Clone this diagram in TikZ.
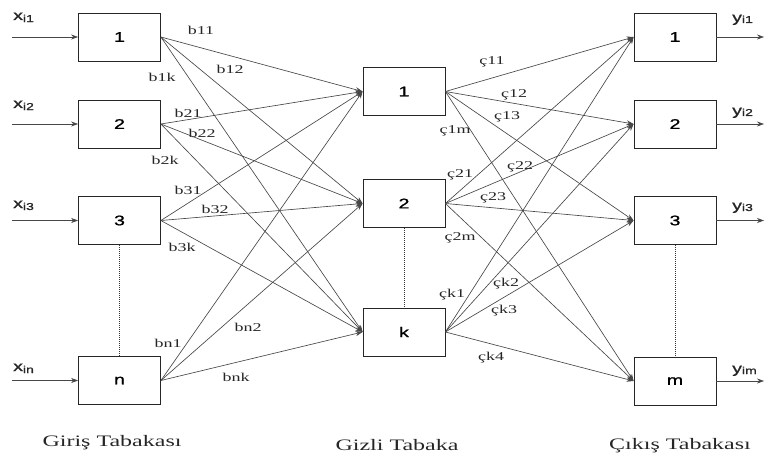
\documentclass[tikz,border=0pt]{standalone}
\usepackage{fontspec}
\setmainfont{Liberation Serif}
\newfontfamily\boxfont[FakeStretch=1.4,FakeBold=1.2]{Liberation Sans}
\newfontfamily\wfont[FakeStretch=1.5]{Liberation Serif}
\newfontfamily\tfont[FakeStretch=1.5]{Liberation Serif}
\usetikzlibrary{arrows.meta}
\begin{document}
\begin{tikzpicture}[x=1pt,y=-1pt,
  unit/.style={draw=black!85, line width=0.8pt, minimum width=82pt, minimum height=48pt, inner sep=0pt,
    font=\boxfont\fontsize{14}{14}\selectfont},
  conn/.style={draw=black!72, line width=0.65pt, -{Stealth[length=7pt,width=5pt]}},
  inarr/.style={draw=black!72, line width=0.65pt, -{Stealth[length=7pt,width=5pt]}},
  dotline/.style={draw=black!80, line width=0.6pt, dash pattern=on 1pt off 1pt},
  wlab/.style={font=\wfont\fontsize{12}{12}\selectfont, inner sep=0pt, text=black!85},
  vlab/.style={font=\boxfont\fontsize{14}{14}\selectfont, inner sep=0pt, anchor=base west, text=black!85},
  ttl/.style={font=\tfont\fontsize{16}{16}\selectfont, inner sep=0pt, text=black!85}
]
\useasboundingbox (0,0) rectangle (764,460);
% input layer
\node[unit] (i1) at (119.5,37) {1};
\node[unit] (i2) at (119.5,124) {2};
\node[unit] (i3) at (119.5,220.5) {3};
\node[unit] (in) at (119.5,380.5) {n};
% hidden layer
\node[unit] (h1) at (404,91.5) {1};
\node[unit] (h2) at (404,203.5) {2};
\node[unit] (hk) at (404,332) {k};
% output layer
\node[unit] (o1) at (675,37) {1};
\node[unit] (o2) at (675,124) {2};
\node[unit] (o3) at (675,220.5) {3};
\node[unit] (om) at (675,381) {m};
% input arrows
\coordinate (s1) at (12,37);
\coordinate (s2) at (12,124);
\coordinate (s3) at (12,220.5);
\coordinate (sn) at (12,380.5);
\draw[inarr] (s1) -- (i1.west);
\draw[inarr] (s2) -- (i2.west);
\draw[inarr] (s3) -- (i3.west);
\draw[inarr] (sn) -- (in.west);
% output arrows
\coordinate (e1) at (764,37);
\coordinate (e2) at (764,124);
\coordinate (e3) at (764,220.5);
\coordinate (em) at (764,381);
\draw[inarr] (o1.east) -- (e1);
\draw[inarr] (o2.east) -- (e2);
\draw[inarr] (o3.east) -- (e3);
\draw[inarr] (om.east) -- (em);
% dotted
\draw[dotline] (i3.south) -- (in.north);
\draw[dotline] (h2.south) -- (hk.north);
\draw[dotline] (o3.south) -- (om.north);
% connections
\foreach \a in {i1,i2,i3,in} \foreach \b in {h1,h2,hk} \draw[conn] (\a.east) -- (\b.west);
\foreach \a in {h1,h2,hk} \foreach \b in {o1,o2,o3,om} \draw[conn] (\a.east) -- (\b.west);
% input labels
\node[vlab] (xl1) at (13,20) {x{\fontsize{10}{10}\selectfont\raisebox{-2pt}{i1}}};
\node[vlab] (xl2) at (13,108) {x{\fontsize{10}{10}\selectfont\raisebox{-2pt}{i2}}};
\node[vlab] (xl3) at (13,208) {x{\fontsize{10}{10}\selectfont\raisebox{-2pt}{i3}}};
\node[vlab] (xln) at (13,371) {x{\fontsize{10}{10}\selectfont\raisebox{-2pt}{in}}};
% output labels
\node[vlab] (yl1) at (732,22) {y{\fontsize{10}{10}\selectfont\raisebox{-1pt}{i1}}};
\node[vlab] (yl2) at (732,115) {y{\fontsize{10}{10}\selectfont\raisebox{-1pt}{i2}}};
\node[vlab] (yl3) at (732,210) {y{\fontsize{10}{10}\selectfont\raisebox{-1pt}{i3}}};
\node[vlab] (ylm) at (732,373) {y{\fontsize{10}{10}\selectfont\raisebox{-1pt}{im}}};
% weight labels input-hidden
\node[wlab] (w11) at (201,30) {b11};
\node[wlab] (w12) at (230,69) {b12};
\node[wlab] (w1k) at (162,77) {b1k};
\node[wlab] (w21) at (188,113) {b21};
\node[wlab] (w22) at (202,133) {b22};
\node[wlab] (w2k) at (165,160) {b2k};
\node[wlab] (w31) at (188,190) {b31};
\node[wlab] (w32) at (215,209) {b32};
\node[wlab] (w3k) at (182,247) {b3k};
\node[wlab] (wn1) at (168,343) {bn1};
\node[wlab] (wn2) at (248,327) {bn2};
\node[wlab] (wnk) at (236,377) {bnk};
% weight labels hidden-output
\node[wlab] (c11) at (492,62) {ç11};
\node[wlab] (c12) at (514,95) {ç12};
\node[wlab] (c13) at (507,117) {ç13};
\node[wlab] (c1m) at (455,131) {ç1m};
\node[wlab] (c21) at (460,175) {ç21};
\node[wlab] (c22) at (520,167) {ç22};
\node[wlab] (c23) at (493,198) {ç23};
\node[wlab] (c2m) at (460,238) {ç2m};
\node[wlab] (ck1) at (452,295) {çk1};
\node[wlab] (ck2) at (506,284) {çk2};
\node[wlab] (ck3) at (504,311) {çk3};
\node[wlab] (ck4) at (491,358) {çk4};
% titles
\node[ttl] (t1) at (112,443) {Giriş Tabakası};
\node[ttl] (t2) at (397,445) {Gizli Tabaka};
\node[ttl] (t3) at (680,446) {Çıkış Tabakası};
\end{tikzpicture}
\end{document}
